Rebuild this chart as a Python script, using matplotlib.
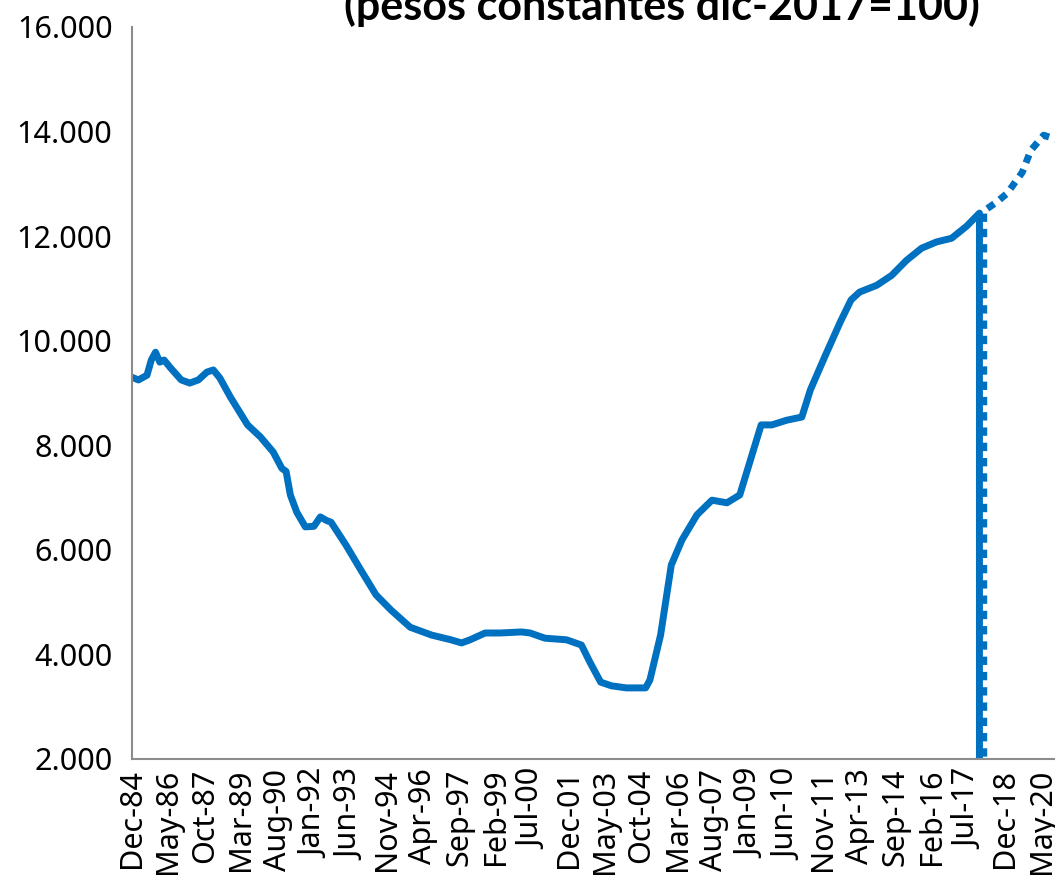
import matplotlib
matplotlib.use("Agg")
import matplotlib.pyplot as plt
from matplotlib.ticker import FuncFormatter

# ---- data (months counted from Dec-1984) ----
hist_months = [0, 3, 7, 9, 11, 13, 15, 18, 23, 27, 31, 35, 38, 41, 46, 54, 60, 66, 70, 72,
               74, 77, 81, 85, 88, 91, 93, 100, 107, 114, 121, 130, 140, 149, 154, 158, 165,
               172, 182, 186, 193, 203, 210, 214, 219, 224, 231, 240, 242, 247, 252, 257,
               264, 271, 278, 284, 289, 294, 299, 306, 313, 317, 324, 331, 336, 340, 348,
               355, 362, 369, 376, 383, 390, 396, 396]
hist_values = [9300, 9250, 9340, 9630, 9780, 9590, 9630, 9480, 9250, 9190, 9250, 9400, 9440,
               9290, 8920, 8390, 8160, 7870, 7560, 7500, 7050, 6720, 6440, 6450, 6630, 6560,
               6530, 6090, 5610, 5140, 4850, 4520, 4370, 4280, 4220, 4280, 4410, 4410, 4430,
               4410, 4310, 4280, 4180, 3850, 3470, 3400, 3360, 3360, 3510, 4370, 5710, 6190,
               6670, 6950, 6900, 7050, 7720, 8390, 8390, 8480, 8540, 9060, 9720, 10360, 10780,
               10930, 11060, 11250, 11540, 11770, 11890, 11960, 12190, 12440, 0]

proj_months = [398, 398, 404, 409, 416, 420, 426, 432, 440]
proj_values = [0, 12480, 12650, 12820, 13220, 13640, 13930, 13850, 13800]

tick_labels = ["Dec-84", "May-86", "Oct-87", "Mar-89", "Aug-90", "Jan-92", "Jun-93", "Nov-94",
               "Apr-96", "Sep-97", "Feb-99", "Jul-00", "Dec-01", "May-03", "Oct-04", "Mar-06",
               "Aug-07", "Jan-09", "Jun-10", "Nov-11", "Apr-13", "Sep-14", "Feb-16", "Jul-17",
               "Dec-18", "May-20"]
tick_step = 17
y_ticks = [2000, 4000, 6000, 8000, 10000, 12000, 14000, 16000]

title = "(pesos constantes dic-2017=100)"
blue = "#0070C0"

plt.rcParams["font.family"] = ["Noto Sans", "DejaVu Sans"]

W, H = 1055, 883
fig = plt.figure(figsize=(W / 100, H / 100), dpi=100)
x0 = 132
px_per_month = 2.14
xmax = 445
ax = fig.add_axes([x0 / W, 1 - 759 / H, (px_per_month * xmax) / W, (759 - 27) / H])

ax.plot(hist_months, hist_values, color=blue, lw=5, solid_joinstyle="round",
        solid_capstyle="round")
ax.plot(proj_months, proj_values, color=blue, lw=5, linestyle=(0, (1.2, 1.0)),
        dash_capstyle="butt")

ax.set_xlim(0, xmax)
ax.set_ylim(2000, 16000)
ax.set_yticks(y_ticks)
ax.yaxis.set_major_formatter(FuncFormatter(lambda v, p: f"{int(v):,}".replace(",", ".")))
ax.set_xticks([i * tick_step for i in range(len(tick_labels))])
ax.set_xticklabels(tick_labels, rotation=90)
ax.tick_params(axis="both", length=0, labelsize=22, colors="black")
ax.tick_params(axis="y", pad=14)
ax.tick_params(axis="x", pad=7)
for s in ["top", "right"]:
    ax.spines[s].set_visible(False)
for s in ["left", "bottom"]:
    ax.spines[s].set_color("#8c8c8c")
    ax.spines[s].set_linewidth(1.5)

fig.text(662 / W, 1 - 20 / H, title, ha="center", va="baseline", fontsize=31,
         fontweight="bold", family="Lato")

fig.savefig("out.png", dpi=100)
